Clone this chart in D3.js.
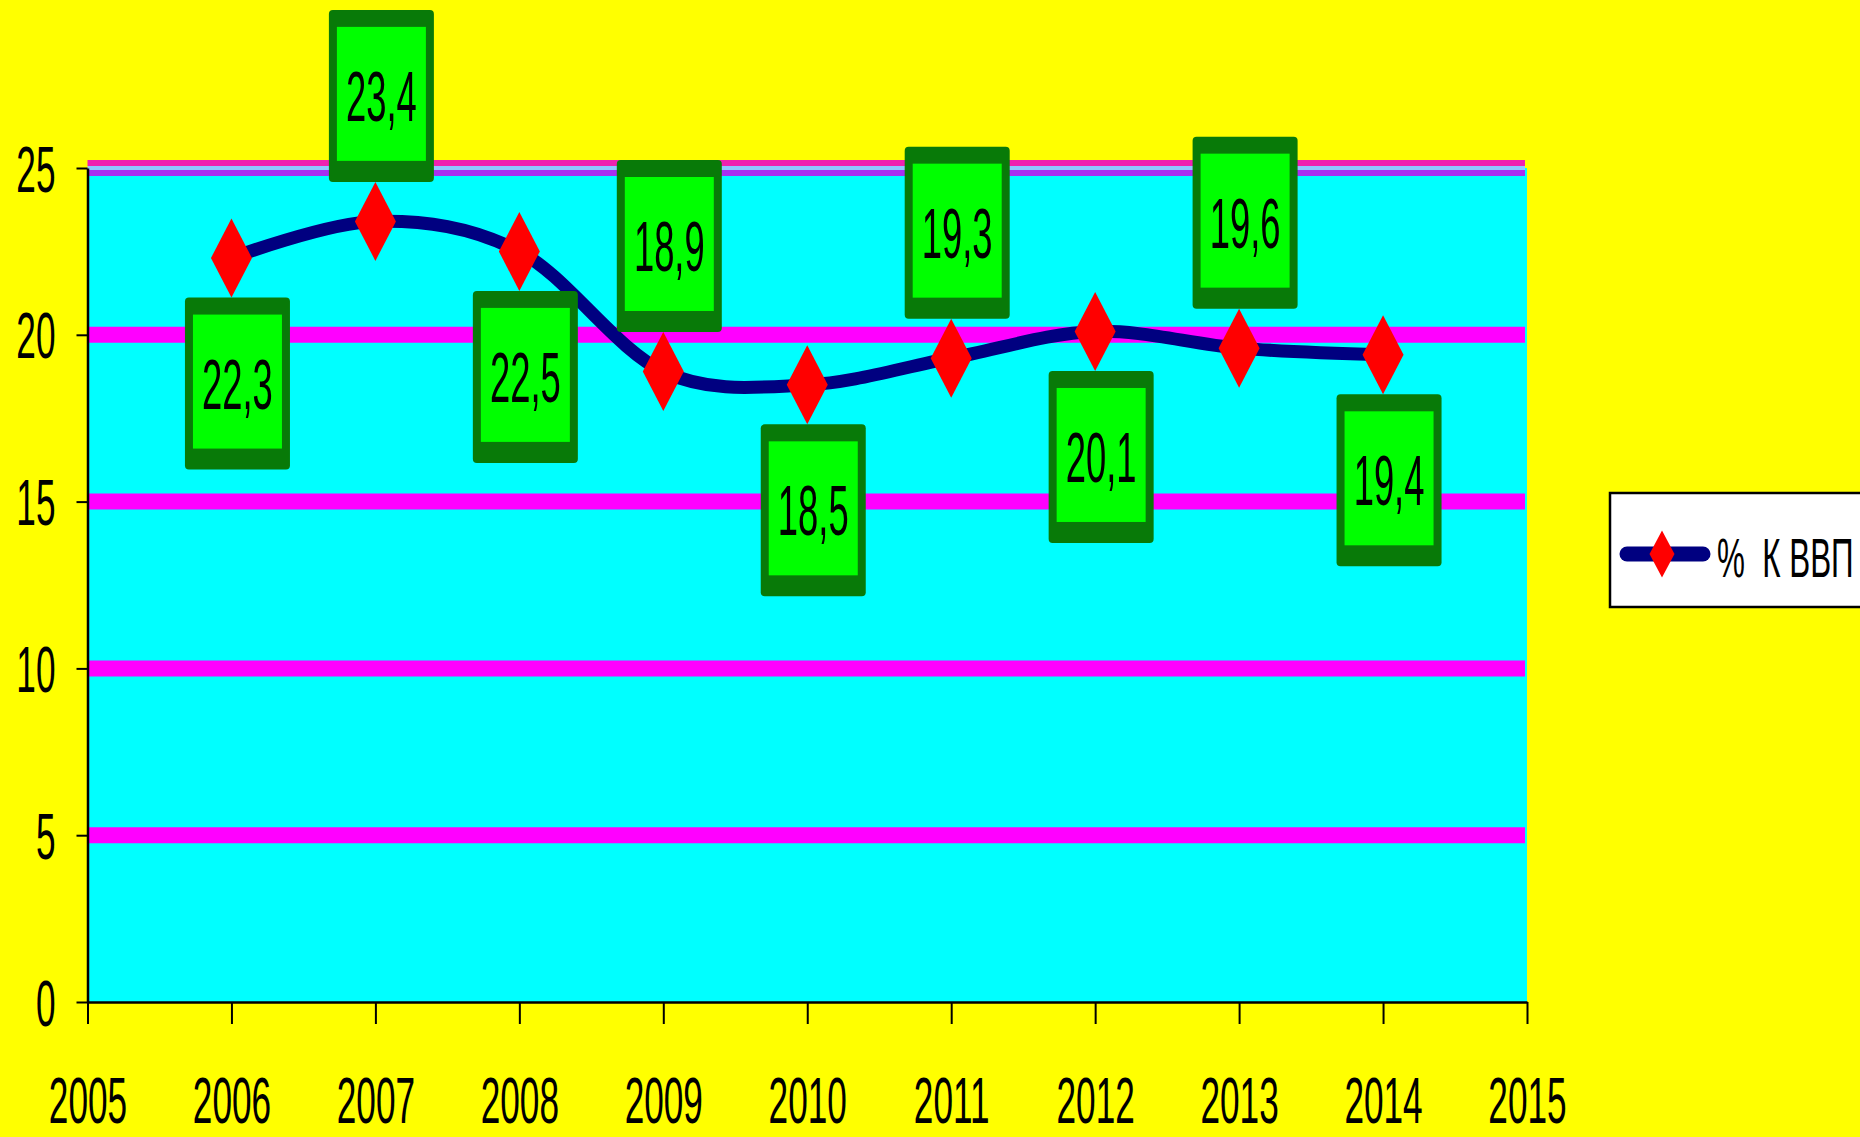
<!DOCTYPE html>
<html>
<head>
<meta charset="utf-8">
<script src="https://cdn.jsdelivr.net/npm/d3@7"></script>
<style>
  html, body { margin: 0; padding: 0; background: #ffff00; overflow: hidden; }
  svg { display: block; }
  text { font-family: "Liberation Sans", Arial, sans-serif; fill: #000; }
</style>
</head>
<body>
<svg id="chart" width="1860" height="1137"></svg>
<script>
// values
const years = [2006, 2007, 2008, 2009, 2010, 2011, 2012, 2013, 2014];
const values = [22.3, 23.4, 22.5, 18.9, 18.5, 19.3, 20.1, 19.6, 19.4];
const labelSide = ['below', 'above', 'below', 'above', 'below', 'above', 'below', 'above', 'below'];
const xTicks = [2005, 2006, 2007, 2008, 2009, 2010, 2011, 2012, 2013, 2014, 2015];
const yTicks = [0, 5, 10, 15, 20, 25];
const gridValues = [5, 10, 15, 20];
const seriesName = '%  К ВВП';

// layout
const plot = { left: 87.5, right: 1527, top: 168, bottom: 1002 };
const squeeze = 0.55;          // the original font is very condensed
const diamondW = 20.5, diamondH = 39.5;
const boxW = 105, boxH = 172;

const svg = d3.select('#chart');

const x = d3.scaleLinear().domain([2005, 2015]).range([plot.left, plot.right]);
const y = d3.scaleLinear().domain([0, 25]).range([plot.bottom, plot.top]);

// plot area
svg.append('rect')
  .attr('x', plot.left).attr('y', y(25))
  .attr('width', plot.right - plot.left).attr('height', plot.bottom - y(25))
  .attr('fill', '#00ffff');

// gridlines
svg.append('g').selectAll('line')
  .data(gridValues)
  .enter().append('line')
  .attr('x1', plot.left).attr('x2', plot.right - 2)
  .attr('y1', d => y(d)).attr('y2', d => y(d))
  .attr('stroke', '#ff00ff').attr('stroke-width', 16);

// top gridline sits on the plot edge, it looks striped
const topLine = svg.append('g');
topLine.append('line').attr('x1', plot.left).attr('x2', plot.right - 2)
  .attr('y1', y(25) - 5).attr('y2', y(25) - 5)
  .attr('stroke', '#f020b0').attr('stroke-width', 6);
topLine.append('line').attr('x1', plot.left).attr('x2', plot.right - 2)
  .attr('y1', y(25)).attr('y2', y(25))
  .attr('stroke', '#90c8ff').attr('stroke-width', 4);
topLine.append('line').attr('x1', plot.left).attr('x2', plot.right - 2)
  .attr('y1', y(25) + 5).attr('y2', y(25) + 5)
  .attr('stroke', '#a830f0').attr('stroke-width', 6);

// axes
const xAxis = svg.append('g')
  .attr('transform', `translate(0,${plot.bottom})`)
  .call(d3.axisBottom(x).tickValues(xTicks).tickFormat(d => d).tickSize(22).tickSizeOuter(0));

const yAxis = svg.append('g')
  .attr('transform', `translate(${plot.left},0)`)
  .call(d3.axisLeft(y).tickValues(yTicks).tickFormat(d => d).tickSize(11).tickSizeOuter(0));

[xAxis, yAxis].forEach(ax => {
  ax.attr('font-size', 64).attr('font-family', '"Liberation Sans", Arial, sans-serif');
  ax.select('.domain').attr('stroke', '#000').attr('stroke-width', 2.5);
  ax.selectAll('.tick line').attr('stroke', '#000').attr('stroke-width', 2);
});

xAxis.selectAll('.tick text')
  .attr('y', null).attr('dy', null)
  .attr('fill', '#000')
  .attr('transform', `translate(0,121) scale(${squeeze},1)`);

yAxis.selectAll('.tick text')
  .attr('x', null).attr('dy', null)
  .attr('fill', '#000')
  .attr('transform', `translate(-32,23) scale(${squeeze},1)`);

// smoothed line
const points = years.map((yr, i) => ({ year: yr, value: values[i], side: labelSide[i] }));

const line = d3.line()
  .x(d => x(d.year))
  .y(d => y(d.value))
  .curve(d3.curveCardinal.tension(0));

svg.append('path')
  .datum(points)
  .attr('d', line)
  .attr('fill', 'none')
  .attr('stroke', '#000080')
  .attr('stroke-width', 13)
  .attr('stroke-linejoin', 'round');

// diamond markers
function diamond(w, h) {
  return `M0,${-h}L${w},0L0,${h}L${-w},0Z`;
}

svg.append('g').selectAll('path')
  .data(points)
  .enter().append('path')
  .attr('d', diamond(diamondW, diamondH))
  .attr('transform', d => `translate(${x(d.year)},${y(d.value)})`)
  .attr('fill', '#ff0000');

// data labels in green boxes
const fmt = v => v.toFixed(1).replace('.', ',');

const labels = svg.append('g').selectAll('g')
  .data(points)
  .enter().append('g')
  .attr('transform', d => {
    const cx = x(d.year) + 6;
    const by = d.side === 'above'
      ? y(d.value) - diamondH - boxH
      : y(d.value) + diamondH;
    return `translate(${cx - boxW / 2},${by})`;
  });

labels.append('rect')
  .attr('width', boxW).attr('height', boxH)
  .attr('rx', 4)
  .attr('fill', '#087a08');

labels.append('rect')
  .attr('x', 8).attr('y', 17)
  .attr('width', boxW - 16).attr('height', boxH - 38)
  .attr('fill', '#00ff00');

labels.append('text')
  .attr('text-anchor', 'middle')
  .attr('font-size', 70)
  .attr('transform', `translate(${boxW / 2},${boxH / 2 + 25}) scale(0.52,1)`)
  .text(d => fmt(d.value));

// legend
const legend = svg.append('g').attr('transform', 'translate(1610,493)');
legend.append('rect')
  .attr('width', 280).attr('height', 114)
  .attr('fill', '#fff').attr('stroke', '#000').attr('stroke-width', 2.5);
legend.append('line')
  .attr('x1', 17).attr('x2', 93).attr('y1', 61).attr('y2', 61)
  .attr('stroke', '#000080').attr('stroke-width', 15).attr('stroke-linecap', 'round');
legend.append('path')
  .attr('d', diamond(12.5, 23.5))
  .attr('transform', 'translate(52,61)')
  .attr('fill', '#ff0000');
legend.append('text')
  .attr('font-size', 56)
  .attr('xml:space', 'preserve')
  .style('white-space', 'pre')
  .attr('transform', `translate(107,84) scale(0.56,1)`)
  .text(seriesName);
</script>
</body>
</html>
